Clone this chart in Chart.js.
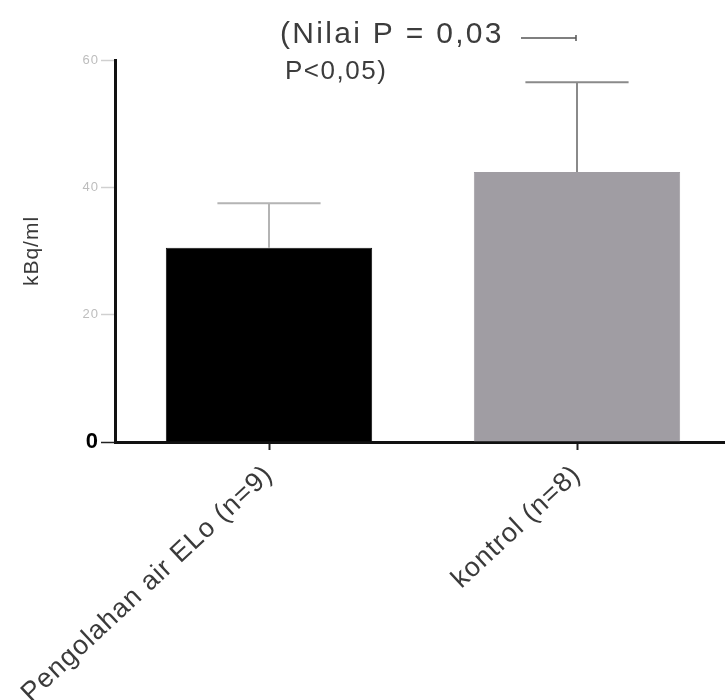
<!DOCTYPE html>
<html>
<head>
<meta charset="utf-8">
<script src="https://cdn.jsdelivr.net/npm/chart.js@4"></script>
<style>
  body { margin: 0; background: #fff; overflow: hidden; }
  #wrap { width: 731px; height: 700px; }
</style>
</head>
<body>
<div id="wrap"><canvas id="chart"></canvas></div>
<script>
var categories = ['Pengolahan air ELo (n=9)', 'kontrol (n=8)']
var means = [30.5, 42.4]
var sd = [7.0, 14.1]
var barColors = ['#000000', '#a09da3']
var errColors = ['#b4b4b4', '#8a8a8a']
var yTicks = [0, 20, 40, 60]
var noteLine1 = '(Nilai P = 0,03'
var noteLine2 = 'P<0,05)'

var FONT = "'Liberation Sans', Arial, sans-serif"

// a bit of letter spacing, the original figure has wide text
var spacing = {
    id: 'spacing',
    beforeUpdate: function (chart) { chart.ctx.letterSpacing = '1px' },
    beforeDraw: function (chart) { chart.ctx.letterSpacing = '1px' }
}

// SD whiskers (upper only) and the p-value note
var errorBars = {
    id: 'errorBars',
    afterDatasetsDraw: function (chart) {
        var ctx = chart.ctx
        var y = chart.scales.y
        var meta = chart.getDatasetMeta(0)
        meta.data.forEach(function (bar, i) {
            var top = y.getPixelForValue(means[i] + sd[i])
            var half = bar.width / 4
            ctx.save()
            ctx.strokeStyle = errColors[i]
            ctx.lineWidth = 2
            ctx.beginPath()
            ctx.moveTo(bar.x, bar.y)
            ctx.lineTo(bar.x, top)
            ctx.moveTo(bar.x - half, top)
            ctx.lineTo(bar.x + half, top)
            ctx.stroke()
            ctx.restore()
        })
    },
    afterDraw: function (chart) {
        var ctx = chart.ctx
        var a = chart.chartArea
        ctx.save()
        ctx.fillStyle = '#3c3c3c'
        ctx.textBaseline = 'middle'
        ctx.letterSpacing = '2.3px'
        ctx.font = '30px ' + FONT
        ctx.fillText(noteLine1, a.left + 165, a.top - 25)
        ctx.letterSpacing = '1.5px'
        ctx.font = '26px ' + FONT
        ctx.fillText(noteLine2, a.left + 170, a.top + 12)
        ctx.strokeStyle = '#555'
        ctx.lineWidth = 1.5
        ctx.beginPath()
        ctx.moveTo(a.left + 406, a.top - 22)
        ctx.lineTo(a.left + 461, a.top - 22)
        ctx.moveTo(a.left + 461, a.top - 25)
        ctx.lineTo(a.left + 461, a.top - 19)
        ctx.stroke()
        ctx.restore()
    }
}

var ctx = document.getElementById('chart').getContext('2d')
var myChart = new Chart(ctx, {
    type: 'bar',
    data: {
        labels: categories,
        datasets: [{
            data: means,
            backgroundColor: barColors,
            borderColor: ['#111', '#a09da3'],
            borderWidth: 1,
            barPercentage: 0.67,
            categoryPercentage: 1
        }]
    },
    options: {
        responsive: true,
        maintainAspectRatio: false,
        animation: false,
        layout: { padding: { top: 60, right: 0, left: 0, bottom: 0 } },
        plugins: {
            legend: { display: false },
            tooltip: { enabled: false }
        },
        scales: {
            x: {
                border: { color: '#111', width: 3 },
                grid: { offset: false, drawOnChartArea: false, tickLength: 8, tickColor: '#222', tickWidth: 2 },
                ticks: {
                    color: '#3a3a3a',
                    font: { family: FONT, size: 27 },
                    minRotation: 43,
                    maxRotation: 43,
                    padding: 9
                },
                afterFit: function (scale) {
                    scale.height = 258
                    scale.paddingLeft = 0
                    scale.paddingRight = 0
                }
            },
            y: {
                min: 0,
                max: 60,
                border: { color: '#111', width: 3 },
                grid: {
                    drawOnChartArea: false,
                    tickLength: 14,
                    tickWidth: 1.5,
                    tickColor: function (c) { return c.tick && c.tick.value === 0 ? '#222' : '#d0d0d0' }
                },
                afterBuildTicks: function (scale) {
                    scale.ticks = yTicks.map(function (v) { return { value: v } })
                },
                ticks: {
                    padding: 2,
                    color: function (c) { return c.tick.value === 0 ? '#000' : '#bdbdbd' },
                    font: function (c) {
                        if (c.tick && c.tick.value === 0) return { family: FONT, size: 22, weight: 'bold' }
                        return { family: FONT, size: 13 }
                    }
                },
                title: {
                    display: true,
                    text: 'kBq/ml',
                    color: '#3a3a3a',
                    font: { family: FONT, size: 21 },
                    padding: { top: 20 }
                },
                afterFit: function (scale) { scale.width = 115 }
            }
        }
    },
    plugins: [spacing, errorBars]
});
</script>
</body>
</html>
